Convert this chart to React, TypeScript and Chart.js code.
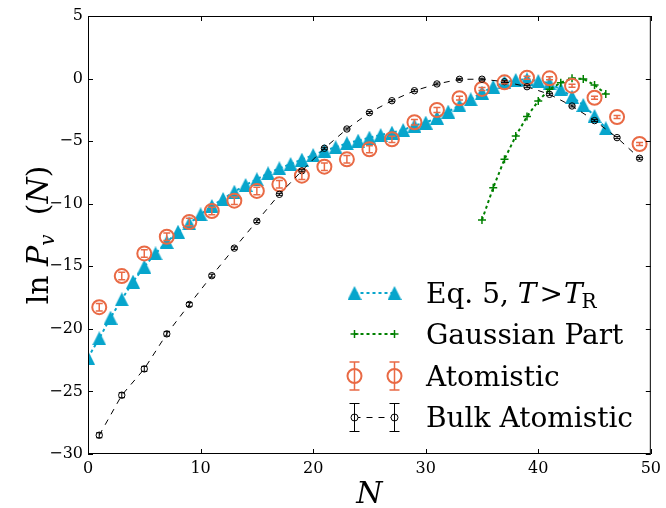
import React, { useEffect, useRef } from "react";
import { Chart, registerables } from "chart.js";

Chart.register(...registerables);

// ---------------- data ----------------
const eqN = [0, 1, 2, 3, 4, 5, 6, 7, 8, 9, 10, 11, 12, 13, 14, 15, 16, 17, 18, 19, 20, 21, 22, 23, 24, 25, 26, 27, 28, 29, 30, 31, 32, 33, 34, 35, 36, 37, 38, 39, 40, 41, 42, 43, 44, 45, 46];
const eqVals = [-22.3, -20.76, -19.11, -17.64, -16.23, -15.03, -13.97, -13.06, -12.24, -11.57, -10.85, -10.18, -9.62, -9.04, -8.5, -8.05, -7.57, -7.17, -6.83, -6.48, -6.11, -5.76, -5.49, -5.17, -4.96, -4.72, -4.51, -4.32, -4.11, -3.76, -3.52, -3.12, -2.64, -2.15, -1.66, -1.12, -0.65, -0.3, -0.11, -0.06, -0.19, -0.38, -0.86, -1.45, -2.11, -2.99, -3.97];

const gaussN = [35, 36, 37, 38, 39, 40, 41, 42, 43, 44, 45, 46];
const gaussVals = [-11.3, -8.72, -6.45, -4.59, -3.04, -1.79, -0.86, -0.33, 0.02, -0.03, -0.51, -1.23];

const atomN = [1, 3, 5, 7, 9, 11, 13, 15, 17, 19, 21, 23, 25, 27, 29, 31, 33, 35, 37, 39, 41, 43, 45, 47, 49];
const atomVals = [-18.27, -15.78, -13.97, -12.64, -11.46, -10.58, -9.76, -8.98, -8.45, -7.76, -7.04, -6.45, -5.65, -4.85, -3.49, -2.51, -1.57, -0.83, -0.3, 0.07, 0.02, -0.57, -1.53, -3.07, -5.23];
const atomErr = [0.3, 0.3, 0.3, 0.3, 0.3, 0.3, 0.3, 0.3, 0.3, 0.3, 0.3, 0.3, 0.28, 0.25, 0.22, 0.2, 0.15, 0.12, 0.12, 0.12, 0.12, 0.12, 0.12, 0.12, 0.12];

const bulkN = [1, 3, 5, 7, 9, 11, 13, 15, 17, 19, 21, 23, 25, 27, 29, 31, 33, 35, 37, 39, 41, 43, 45, 47, 49];
const bulkVals = [-28.5, -25.3, -23.2, -20.4, -18.05, -15.75, -13.55, -11.4, -9.25, -7.37, -5.57, -4.03, -2.72, -1.77, -0.97, -0.43, -0.06, -0.05, -0.25, -0.65, -1.26, -2.19, -3.36, -4.72, -6.37];
const bulkErr = [0.2, 0.2, 0.2, 0.18, 0.15, 0.12, 0.1, 0.1, 0.08, 0.08, 0.08, 0.08, 0.08, 0.08, 0.08, 0.08, 0.08, 0.08, 0.08, 0.08, 0.08, 0.08, 0.08, 0.08, 0.08];

const xTicks = [0, 10, 20, 30, 40, 50];
const yTicks = [-30, -25, -20, -15, -10, -5, 0, 5];

const legendLabels = ["Eq. 5, ", "Gaussian Part", "Atomistic", "Bulk Atomistic"];

// ---------------- style ----------------
const SERIF = '"DejaVu Serif", "Liberation Serif", serif';
const CYAN = "#07a5cc";
const ORANGE = "#e96a45";
const GREEN = "#008000";
const BLACK = "#000000";

function fmt(v: number): string {
  return v < 0 ? "\u2212" + Math.abs(v) : String(v);
}

function makeTriangle(color: string, size: number): HTMLCanvasElement {
  const c = document.createElement("canvas");
  c.width = size;
  c.height = size;
  const g = c.getContext("2d")!;
  g.fillStyle = color;
  g.beginPath();
  g.moveTo(size / 2, 0);
  g.lineTo(size, size);
  g.lineTo(0, size);
  g.closePath();
  g.fill();
  return c;
}

function drawErrBar(ctx: CanvasRenderingContext2D, x: number, y1: number, y2: number, cap: number) {
  ctx.beginPath();
  ctx.moveTo(x, y1);
  ctx.lineTo(x, y2);
  ctx.moveTo(x - cap, y1);
  ctx.lineTo(x + cap, y1);
  ctx.moveTo(x - cap, y2);
  ctx.lineTo(x + cap, y2);
  ctx.stroke();
}

export default function App() {
  const ref = useRef<HTMLCanvasElement | null>(null);

  useEffect(() => {
    document.body.style.margin = "0";
    const canvas = ref.current;
    if (!canvas) return;
    const tri = makeTriangle(CYAN, 14);

    const overlay = {
      id: "overlay",
      afterDatasetsDraw(chart: any) {
        const ctx: CanvasRenderingContext2D = chart.ctx;
        const xs = chart.scales.x;
        const ys = chart.scales.y;
        const a = chart.chartArea;
        ctx.save();
        ctx.beginPath();
        ctx.rect(a.left, a.top, a.right - a.left, a.bottom - a.top);
        ctx.clip();
        ctx.setLineDash([]);
        ctx.lineWidth = 1.5;
        ctx.strokeStyle = ORANGE;
        atomN.forEach((n, i) => {
          const x = xs.getPixelForValue(n);
          drawErrBar(ctx, x, ys.getPixelForValue(atomVals[i] + atomErr[i]), ys.getPixelForValue(atomVals[i] - atomErr[i]), 3.5);
        });
        ctx.lineWidth = 1;
        ctx.strokeStyle = BLACK;
        bulkN.forEach((n, i) => {
          const x = xs.getPixelForValue(n);
          drawErrBar(ctx, x, ys.getPixelForValue(bulkVals[i] + bulkErr[i]), ys.getPixelForValue(bulkVals[i] - bulkErr[i]), 3);
        });
        ctx.restore();
      },
      afterDraw(chart: any) {
        const ctx: CanvasRenderingContext2D = chart.ctx;
        const xs = chart.scales.x;
        const ys = chart.scales.y;
        const a = chart.chartArea;
        ctx.save();
        // frame
        ctx.strokeStyle = BLACK;
        ctx.lineWidth = 1;
        ctx.setLineDash([]);
        ctx.strokeRect(a.left + 0.5, a.top + 0.5, a.right - a.left - 1, a.bottom - a.top - 1);
        // inward ticks on all sides
        const TL = 5;
        ctx.beginPath();
        xTicks.forEach((t) => {
          const x = Math.round(xs.getPixelForValue(t)) + 0.5;
          ctx.moveTo(x, a.bottom);
          ctx.lineTo(x, a.bottom - TL);
          ctx.moveTo(x, a.top);
          ctx.lineTo(x, a.top + TL);
        });
        yTicks.forEach((t) => {
          const y = Math.round(ys.getPixelForValue(t)) + 0.5;
          ctx.moveTo(a.left, y);
          ctx.lineTo(a.left + TL, y);
          ctx.moveTo(a.right, y);
          ctx.lineTo(a.right - TL, y);
        });
        ctx.stroke();

        // legend
        const x1 = 354.5;
        const x2 = 394.5;
        const tx = 426;
        const rows = [293, 334, 376, 417];
        // Eq. 5
        ctx.strokeStyle = CYAN;
        ctx.lineWidth = 2;
        ctx.setLineDash([3, 3]);
        ctx.beginPath();
        ctx.moveTo(x1, rows[0]);
        ctx.lineTo(x2, rows[0]);
        ctx.stroke();
        ctx.drawImage(tri, x1 - 7, rows[0] - 7);
        ctx.drawImage(tri, x2 - 7, rows[0] - 7);
        // Gaussian
        ctx.strokeStyle = GREEN;
        ctx.beginPath();
        ctx.moveTo(x1, rows[1]);
        ctx.lineTo(x2, rows[1]);
        ctx.stroke();
        ctx.setLineDash([]);
        ctx.lineWidth = 1.5;
        [x1, x2].forEach((x) => {
          ctx.beginPath();
          ctx.moveTo(x - 4, rows[1]);
          ctx.lineTo(x + 4, rows[1]);
          ctx.moveTo(x, rows[1] - 4);
          ctx.lineTo(x, rows[1] + 4);
          ctx.stroke();
        });
        // Atomistic
        ctx.strokeStyle = ORANGE;
        ctx.lineWidth = 2;
        [x1, x2].forEach((x) => {
          ctx.beginPath();
          ctx.arc(x, rows[2], 7, 0, Math.PI * 2);
          ctx.stroke();
          ctx.lineWidth = 1.5;
          drawErrBar(ctx, x, rows[2] - 14, rows[2] + 14, 5);
          ctx.lineWidth = 2;
        });
        // Bulk
        ctx.strokeStyle = BLACK;
        ctx.lineWidth = 1;
        ctx.setLineDash([6, 6]);
        ctx.beginPath();
        ctx.moveTo(x1, rows[3] + 0.5);
        ctx.lineTo(x2, rows[3] + 0.5);
        ctx.stroke();
        ctx.setLineDash([]);
        [x1, x2].forEach((x) => {
          ctx.fillStyle = "#ffffff";
          ctx.beginPath();
          ctx.arc(x, rows[3] + 0.5, 3.5, 0, Math.PI * 2);
          ctx.fill();
          ctx.stroke();
          drawErrBar(ctx, x, rows[3] - 13.5, rows[3] + 14.5, 5);
        });

        // legend texts
        ctx.fillStyle = BLACK;
        ctx.textBaseline = "alphabetic";
        ctx.textAlign = "left";
        const FS = 28;
        const up = `${FS}px ${SERIF}`;
        const it = `italic ${FS}px ${SERIF}`;
        const sub = `${Math.round(FS * 0.7)}px ${SERIF}`;
        let cx = tx;
        const b0 = rows[0] + 10;
        ctx.font = up;
        ctx.fillText(legendLabels[0], cx, b0);
        cx += ctx.measureText(legendLabels[0]).width;
        ctx.font = it;
        ctx.fillText("T", cx, b0);
        cx += ctx.measureText("T").width + 3;
        ctx.font = up;
        ctx.fillText(">", cx, b0);
        cx += ctx.measureText(">").width + 1;
        ctx.font = it;
        ctx.fillText("T", cx, b0);
        cx += ctx.measureText("T").width - 1;
        ctx.font = sub;
        ctx.fillText("R", cx, b0 + 5);
        ctx.font = up;
        for (let i = 1; i < 4; i++) {
          ctx.fillText(legendLabels[i], tx, rows[i] + 10);
        }

        // x axis label
        ctx.font = `italic 30px ${SERIF}`;
        ctx.textAlign = "center";
        ctx.fillText("N", (a.left + a.right) / 2, 503);

        // y axis label (rotated)
        ctx.save();
        ctx.translate(48, (a.top + a.bottom) / 2);
        ctx.rotate(-Math.PI / 2);
        ctx.textAlign = "left";
        const YF = 30;
        const parts: [string, string, number][] = [
          ["ln", `${YF}px ${SERIF}`, 0],
          [" ", `${YF}px ${SERIF}`, 0],
          ["P", `italic ${YF}px ${SERIF}`, 0],
          ["v", `italic ${Math.round(YF * 0.65)}px ${SERIF}`, 6],
          ["  ", `${YF}px ${SERIF}`, 0],
          ["(", `${YF}px ${SERIF}`, 0],
          ["N", `italic ${YF}px ${SERIF}`, 0],
          [")", `${YF}px ${SERIF}`, 0],
        ];
        let total = 0;
        parts.forEach(([s, f]) => {
          ctx.font = f;
          total += ctx.measureText(s).width;
        });
        let px = -total / 2;
        parts.forEach(([s, f, dy]) => {
          ctx.font = f;
          ctx.fillText(s, px, dy);
          px += ctx.measureText(s).width;
        });
        ctx.restore();

        ctx.restore();
      },
    };

    const chart = new Chart(canvas, {
      type: "scatter",
      data: {
        datasets: [
          {
            label: "Eq. 5",
            data: eqN.map((n, i) => ({ x: n, y: eqVals[i] })),
            showLine: true,
            borderColor: CYAN,
            borderWidth: 2,
            borderDash: [3, 3],
            pointStyle: tri as any,
            pointRadius: 7,
            backgroundColor: CYAN,
            order: 4,
          },
          {
            label: "Gaussian Part",
            data: gaussN.map((n, i) => ({ x: n, y: gaussVals[i] })),
            showLine: true,
            borderColor: GREEN,
            borderWidth: 2,
            borderDash: [3, 3],
            pointStyle: "cross",
            pointRadius: 4,
            pointBorderWidth: 1.5,
            pointBorderColor: GREEN,
            order: 3,
          },
          {
            label: "Atomistic",
            data: atomN.map((n, i) => ({ x: n, y: atomVals[i] })),
            showLine: false,
            pointStyle: "circle",
            pointRadius: 7,
            pointBorderWidth: 2,
            pointBorderColor: ORANGE,
            pointBackgroundColor: "rgba(0,0,0,0)",
            order: 2,
          },
          {
            label: "Bulk Atomistic",
            data: bulkN.map((n, i) => ({ x: n, y: bulkVals[i] })),
            showLine: true,
            borderColor: BLACK,
            borderWidth: 1,
            borderDash: [6, 6],
            pointStyle: "circle",
            pointRadius: 3.2,
            pointBorderWidth: 1,
            pointBorderColor: BLACK,
            pointBackgroundColor: "rgba(0,0,0,0)",
            order: 1,
          },
        ],
      },
      options: {
        animation: false,
        responsive: false,
        maintainAspectRatio: false,
        layout: { padding: { top: 16, right: 10, left: 0, bottom: 0 } },
        plugins: { legend: { display: false }, tooltip: { enabled: false } },
        elements: { line: { tension: 0 } },
        scales: {
          x: {
            type: "linear",
            min: 0,
            max: 50,
            afterFit: (s: any) => {
              s.height = 54;
            },
            afterBuildTicks: (s: any) => {
              s.ticks = xTicks.map((v) => ({ value: v }));
            },
            grid: { display: false, drawTicks: false },
            border: { display: false },
            ticks: {
              autoSkip: false,
              maxRotation: 0,
              padding: 5,
              color: BLACK,
              font: { family: SERIF, size: 16 },
              callback: (v: any) => fmt(Number(v)),
            },
          },
          y: {
            type: "linear",
            min: -30,
            max: 5,
            afterFit: (s: any) => {
              s.width = 88;
            },
            afterBuildTicks: (s: any) => {
              s.ticks = yTicks.map((v) => ({ value: v }));
            },
            grid: { display: false, drawTicks: false },
            border: { display: false },
            ticks: {
              autoSkip: false,
              padding: 5,
              color: BLACK,
              font: { family: SERIF, size: 16 },
              callback: (v: any) => fmt(Number(v)),
            },
          },
        },
      },
      plugins: [overlay],
    });
    return () => chart.destroy();
  }, []);

  return (
    <div style={{ width: 666, height: 508 }}>
      <canvas ref={ref} width={666} height={508} style={{ display: "block" }} />
    </div>
  );
}
